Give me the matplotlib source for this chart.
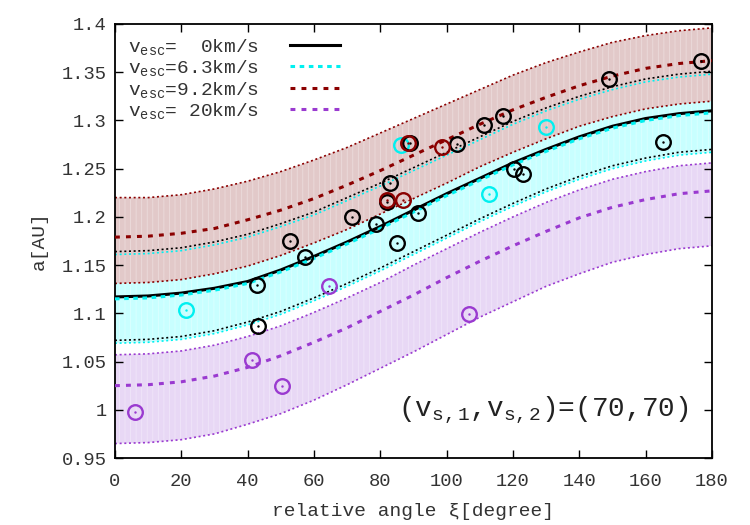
import numpy as np
import matplotlib
matplotlib.use("Agg")
import matplotlib.pyplot as plt

plt.rcParams['font.family'] = ['Liberation Mono', 'DejaVu Sans Mono']
plt.rcParams['mathtext.fontset'] = 'custom'
plt.rcParams['mathtext.rm'] = 'Liberation Mono'
plt.rcParams['mathtext.it'] = 'Liberation Mono'
plt.rcParams['hatch.linewidth'] = 0.6

xi = [0, 10, 20, 30, 40, 50, 60, 70, 80, 90, 100, 110, 120, 130, 140, 150, 160, 170, 180]

# v_esc = 0 (black)
v0_mid = [1.117, 1.118, 1.121, 1.126, 1.133, 1.145, 1.159, 1.174, 1.190, 1.207,
          1.224, 1.240, 1.256, 1.270, 1.283, 1.294, 1.302, 1.307, 1.310]
v0_up = [1.164, 1.165, 1.168, 1.174, 1.182, 1.193, 1.205, 1.220, 1.235, 1.251,
         1.267, 1.283, 1.299, 1.313, 1.325, 1.335, 1.343, 1.348, 1.351]
v0_lo = [1.072, 1.073, 1.076, 1.082, 1.091, 1.102, 1.116, 1.131, 1.147, 1.164,
         1.181, 1.198, 1.214, 1.229, 1.242, 1.253, 1.261, 1.267, 1.270]

# v_esc = 6.3 (cyan)
v63_mid = [1.115, 1.116, 1.119, 1.124, 1.131, 1.143, 1.157, 1.172, 1.188, 1.205,
           1.222, 1.238, 1.254, 1.268, 1.281, 1.292, 1.300, 1.305, 1.308]
v63_up = [1.161, 1.162, 1.165, 1.171, 1.179, 1.190, 1.202, 1.217, 1.232, 1.248,
          1.264, 1.280, 1.296, 1.310, 1.322, 1.332, 1.340, 1.345, 1.348]
v63_lo = [1.069, 1.070, 1.073, 1.079, 1.088, 1.099, 1.113, 1.128, 1.144, 1.161,
          1.178, 1.195, 1.211, 1.226, 1.239, 1.250, 1.258, 1.264, 1.267]

# v_esc = 9.2 (dark red)
v92_mid = [1.179, 1.180, 1.183, 1.188, 1.197, 1.207, 1.219, 1.233, 1.248, 1.264,
           1.280, 1.296, 1.311, 1.324, 1.336, 1.346, 1.354, 1.359, 1.362]
v92_up = [1.220, 1.220, 1.223, 1.229, 1.237, 1.247, 1.259, 1.272, 1.287, 1.302,
          1.317, 1.332, 1.347, 1.360, 1.371, 1.381, 1.388, 1.393, 1.396]
v92_lo = [1.131, 1.132, 1.135, 1.141, 1.149, 1.160, 1.173, 1.187, 1.203, 1.219,
          1.235, 1.252, 1.267, 1.281, 1.294, 1.304, 1.312, 1.317, 1.320]

# v_esc = 20 (purple)
v20_mid = [1.025, 1.026, 1.029, 1.035, 1.044, 1.056, 1.070, 1.085, 1.102, 1.119,
           1.137, 1.154, 1.170, 1.185, 1.199, 1.210, 1.218, 1.224, 1.227]
v20_up = [1.057, 1.058, 1.061, 1.067, 1.076, 1.087, 1.101, 1.116, 1.132, 1.150,
          1.167, 1.184, 1.200, 1.215, 1.228, 1.239, 1.247, 1.253, 1.256]
v20_lo = [0.965, 0.966, 0.969, 0.975, 0.985, 0.996, 1.010, 1.026, 1.043, 1.060,
          1.078, 1.096, 1.112, 1.128, 1.141, 1.153, 1.161, 1.167, 1.170]

# observed points
blk_x = [176.6, 148.9, 165.1, 116.9, 111.3, 103.0, 89.1, 82.9, 81.9, 91.5, 85.1,
         78.7, 71.4, 52.8, 57.3, 42.9, 43.0, 120.3, 122.9]
blk_y = [1.3615, 1.3427, 1.2777, 1.3046, 1.2953, 1.2756, 1.2770, 1.2348, 1.2155,
         1.2044, 1.1728, 1.1926, 1.1995, 1.1755, 1.1586, 1.1297, 1.0865, 1.2494, 1.2445]
cy_x = [21.3, 86.1, 112.7, 130.1]
cy_y = [1.1038, 1.2745, 1.2237, 1.2932]
red_x = [88.4, 98.5, 81.9, 86.7]
red_y = [1.2770, 1.2728, 1.2175, 1.2175]
pur_x = [5.9, 41.4, 50.5, 64.4, 106.7]
pur_y = [0.9980, 1.0514, 1.0243, 1.1285, 1.0993]

cyan = '#00f0f0'
dred = '#8b0000'
purp = '#9a3ad0'
txt = '#333333'

fig = plt.figure(figsize=(7.5, 5.25), dpi=100)
ax = fig.add_axes([0.1533, 0.1276, 0.796, 0.8267])

# bands
ax.fill_between(xi, v20_lo, v20_up, facecolor='#e8d8f5', edgecolor='#f0e6f9',
                hatch='|||', linewidth=0, zorder=1)
ax.fill_between(xi, v63_lo, v63_up, facecolor='#c8ffff', edgecolor='#dcffff',
                hatch='|||', linewidth=0, zorder=1)
ax.fill_between(xi, v92_lo, v92_up, facecolor='#e2c9c9', edgecolor='#ecdcdc',
                hatch='|||', linewidth=0, zorder=1)

# band edges
dot = dict(lw=1.2, dashes=(1.2, 1.6), zorder=2)
ax.plot(xi, v92_up, color=dred, **dot)
ax.plot(xi, v92_lo, color=dred, **dot)
ax.plot(xi, v20_up, color=purp, **dot)
ax.plot(xi, v20_lo, color=purp, **dot)
ax.plot(xi, v63_up, color=cyan, **dot)
ax.plot(xi, v63_lo, color=cyan, **dot)
ax.plot(xi, v0_up, color='black', **dot)
ax.plot(xi, v0_lo, color='black', **dot)

# central curves
l0, = ax.plot(xi, v0_mid, color='black', lw=2.2, zorder=3)
l63, = ax.plot(xi, v63_mid, color=cyan, lw=2.2, dashes=(1.5, 1.5), zorder=3)
l92, = ax.plot(xi, v92_mid, color=dred, lw=2.2, dashes=(1.6, 2.0), zorder=3)
l20, = ax.plot(xi, v20_mid, color=purp, lw=2.2, dashes=(1.6, 2.0), zorder=3)

# points: open circle with a dot at the centre
for px, py, c in [(cy_x, cy_y, cyan), (blk_x, blk_y, 'black'),
                  (red_x, red_y, dred), (pur_x, pur_y, purp)]:
    ax.plot(px, py, 'o', ms=10.5, mfc='none', mec=c, mew=1.7, ls='none', zorder=4)
    ax.plot(px, py, '.', ms=1.5, color=c, ls='none', zorder=4)

ax.set_xlim(0, 180)
ax.set_ylim(0.95, 1.4)
ax.set_xticks(np.arange(0, 181, 20))
yt = [0.95, 1.0, 1.05, 1.1, 1.15, 1.2, 1.25, 1.3, 1.35, 1.4]
ax.set_yticks(yt)
ax.set_yticklabels(['%g' % v for v in yt])
ax.tick_params(direction='in', length=6, width=1, top=True, right=True,
               labelsize=13.5, labelcolor=txt)
ax.tick_params(axis='x', pad=11)
ax.tick_params(axis='y', pad=6)
for s in ax.spines.values():
    s.set_linewidth(1.3)

ax.set_xlabel(r'relative angle ξ[degree]', fontsize=14, color=txt, labelpad=9)
ax.set_ylabel('a[AU]', fontsize=14, color=txt, labelpad=10)

leg = ax.legend([l0, l63, l92, l20],
                ['v$_{\\mathrm{esc}}$=  0km/s', 'v$_{\\mathrm{esc}}$=6.3km/s',
                 'v$_{\\mathrm{esc}}$=9.2km/s', 'v$_{\\mathrm{esc}}$= 20km/s'],
                loc='upper left', frameon=False, markerfirst=False,
                fontsize=14, handlelength=2.6, labelspacing=0.08,
                borderaxespad=0.2, borderpad=0.45, handletextpad=1.6)
for t in leg.get_texts():
    t.set_color(txt)

ax.text(173, 1.0, '(v$_{\\mathrm{s,1}}$,v$_{\\mathrm{s,2}}$)=(70,70)',
        ha='right', va='center', fontsize=20, color='#222222')

fig.savefig('out.png', dpi=100)
